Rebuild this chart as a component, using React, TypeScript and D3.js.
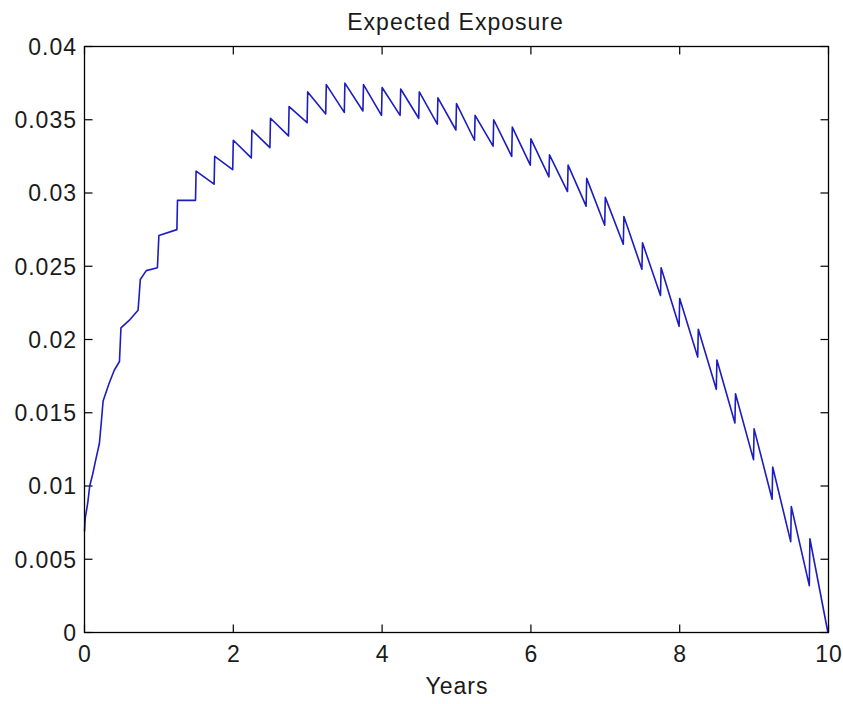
import React from "react";
import * as d3 from "d3";

// ---- data ----
// first-year detail readings (years, exposure)
const earlyTimes = [0, 0.01, 0.045, 0.07, 0.11, 0.145, 0.2, 0.225, 0.25, 0.33, 0.4, 0.47, 0.49, 0.6, 0.72, 0.735, 0.75, 0.83, 0.98];
const earlyValues = [0.0069, 0.0078, 0.0089, 0.0100, 0.0108, 0.01165, 0.0129, 0.0143, 0.0158, 0.0170, 0.0179, 0.0185, 0.0208, 0.0213, 0.0220, 0.0230, 0.0241, 0.0247, 0.0249];

// quarterly segments from year 1: value right after the quarterly jump, and value just before the next jump
const quarterStarts = [1.0, 1.25, 1.5, 1.75, 2.0, 2.25, 2.5, 2.75, 3.0, 3.25, 3.5, 3.75, 4.0, 4.25, 4.5, 4.75, 5.0, 5.25, 5.5, 5.75, 6.0, 6.25, 6.5, 6.75, 7.0, 7.25, 7.5, 7.75, 8.0, 8.25, 8.5, 8.75, 9.0, 9.25, 9.5, 9.75];
const quarterOpen = [0.0271, 0.0295, 0.0315, 0.0325, 0.0336, 0.0343, 0.0351, 0.0359, 0.0369, 0.0374, 0.0375, 0.0374, 0.0372, 0.0371, 0.0369, 0.0365, 0.0361, 0.0353, 0.0350, 0.0345, 0.0337, 0.0326, 0.0319, 0.0310, 0.0297, 0.0284, 0.0266, 0.0249, 0.0228, 0.0207, 0.0186, 0.0163, 0.0139, 0.0113, 0.0086, 0.0064];
const quarterClose = [0.0275, 0.0295, 0.0306, 0.0316, 0.0324, 0.0331, 0.0339, 0.0348, 0.0354, 0.0355, 0.0356, 0.0353, 0.0353, 0.0351, 0.0347, 0.0343, 0.0336, 0.0332, 0.0325, 0.0319, 0.0311, 0.0301, 0.0291, 0.0278, 0.0265, 0.0248, 0.0230, 0.0209, 0.0188, 0.0166, 0.0143, 0.0118, 0.0091, 0.0062, 0.0032, 0.0000];

const xTicks = [0, 2, 4, 6, 8, 10];
const xTickLabels = ["0", "2", "4", "6", "8", "10"];
const yTicks = [0, 0.005, 0.01, 0.015, 0.02, 0.025, 0.03, 0.035, 0.04];
const yTickLabels = ["0", "0.005", "0.01", "0.015", "0.02", "0.025", "0.03", "0.035", "0.04"];

const titleText = "Expected Exposure";
const xLabelText = "Years";

export default function App() {
  const W = 843, H = 704;
  const left = 84.5, right = 828.5, top = 46.5, bottom = 632.5;
  const x = d3.scaleLinear().domain([0, 10]).range([left, right]);
  const y = d3.scaleLinear().domain([0, 0.04]).range([bottom, top]);

  const pts: [number, number][] = [];
  earlyTimes.forEach((t, i) => pts.push([t, earlyValues[i]]));
  quarterStarts.forEach((t, i) => {
    pts.push([t, quarterOpen[i]]);
    pts.push([t + 0.25 - 0.008, quarterClose[i]]);
  });

  const line = d3.line<[number, number]>().x(d => x(d[0])).y(d => y(d[1]));
  const font = "'Liberation Sans', Arial, sans-serif";
  const tick = 8;
  const fs = 23;
  const ls = 1;
  const txt = "#1a1a1a";

  return (
    <svg width={W} height={H} style={{ position: "absolute", left: 0, top: 0, background: "#fff" }}
      fontFamily={font}>
      <rect x={0} y={0} width={W} height={H} fill="#fff" />
      <text x={(left + right) / 2 - 1} y={30} textAnchor="middle" fontSize={fs} letterSpacing={ls} fill={txt}>{titleText}</text>
      {xTicks.map((t, i) => (
        <g key={"x" + i}>
          <line x1={x(t)} x2={x(t)} y1={bottom} y2={bottom - tick} stroke="#000" strokeWidth={1.2} />
          <line x1={x(t)} x2={x(t)} y1={top} y2={top + tick} stroke="#000" strokeWidth={1.2} />
          <text x={x(t) + 0.5} y={662} textAnchor="middle" fontSize={fs} letterSpacing={ls} fill={txt}>{xTickLabels[i]}</text>
        </g>
      ))}
      {yTicks.map((v, i) => (
        <g key={"y" + i}>
          <line x1={left} x2={left + tick} y1={y(v)} y2={y(v)} stroke="#000" strokeWidth={1.2} />
          <line x1={right} x2={right - tick} y1={y(v)} y2={y(v)} stroke="#000" strokeWidth={1.2} />
          <text x={77} y={y(v)} dy="0.36em" textAnchor="end" fontSize={fs} letterSpacing={ls} fill={txt}>{yTickLabels[i]}</text>
        </g>
      ))}
      <path d={line(pts) || ""} fill="none" stroke="#1c1cc0" strokeWidth={1.6} strokeLinejoin="round" />
      <rect x={left} y={top} width={right - left} height={bottom - top} fill="none" stroke="#000" strokeWidth={1.3} />
      <text x={(left + right) / 2 + 0.5} y={694} textAnchor="middle" fontSize={fs} letterSpacing={ls} fill={txt}>{xLabelText}</text>
    </svg>
  );
}
